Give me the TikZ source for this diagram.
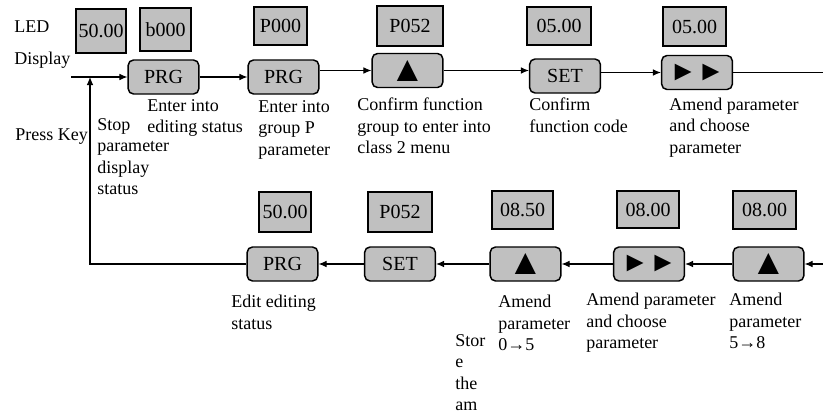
\documentclass[tikz,border=0pt]{standalone}
\usepackage{fontspec}
\setmainfont{Liberation Serif}
\usetikzlibrary{arrows.meta}
\definecolor{keygray}{HTML}{C0C0C0}
\newcommand\upkey{{\fontsize{27}{27}\selectfont ▲}}
\newcommand\shiftkey{{\fontsize{21}{21}\selectfont ►►}}
\tikzset{
  screen/.style={draw,line width=1.1pt,fill=keygray,inner sep=1pt,
    font=\fontsize{15}{18}\selectfont},
  button/.style={draw,line width=1.1pt,fill=keygray,rounded corners=4pt,
    minimum width=53pt,minimum height=25.5pt,inner sep=1pt,
    font=\fontsize{15}{18}\selectfont},
  note/.style={anchor=north west,inner sep=0pt,align=left,
    font=\fontsize{13.5}{16.2}\selectfont},
  flow/.style={line width=0.8pt,-{Latex[length=6pt,width=5pt]}}
}

\begin{document}
\begin{tikzpicture}[x=0.75pt,y=-0.75pt]
  \useasboundingbox (0,0) rectangle (823,414);
  % LED displays
  \foreach \name/\x/\y/\w/\h/\txt in {d1/101/31/50/44/50.00,
      d2/165.5/29.5/51/43/b000, d3/280.5/26/53/38/P000,
      d4/410/26/66/40/P052, d5/559/26/64/38/05.00,
      d6/694.5/26.5/63/39/05.00, d7/285/212/52/40/50.00,
      d8/400/212/64/40/P052, d9/522.5/210/61/38/08.50,
      d10/648/209.5/62/37/08.00, d11/764.5/210/63/38/08.00}
    \node[screen,minimum width=\w*0.75pt,minimum height=\h*0.75pt]
      (\name) at (\x,\y) {\txt};
  % keys
  \foreach \name/\x/\y/\txt in {k1/163.5/77/PRG, k2/283.5/77/PRG,
      k3/407.5/70.5/\upkey, k4/565/76/SET, k5/697/72.5/\shiftkey,
      k6/282.5/264/PRG, k7/400/264/SET, k8/525.5/264/\upkey,
      k9/649/264/\shiftkey, k10/768.5/264/\upkey}
    \node[button] (\name) at (\x,\y) {\txt};
  \coordinate (in) at (71,77);
  \coordinate (join) at (90,77);
  \coordinate (out) at (823,72.5);
  \coordinate (back) at (823,264);
  % upper row
  \draw[flow] (in) -- (k1);
  \draw[flow] (k1) -- (k2);
  \draw[flow] (k2.east |- k3) -- (k3);
  \draw[flow] (k3) -- (k3 -| k4.west);
  \draw[flow] (k4.east |- k5) -- (k5);
  \draw[line width=0.8pt] (k5) -- (out);
  % lower row
  \draw[flow] (back) -- (k10);
  \draw[flow] (k10) -- (k9);
  \draw[flow] (k9) -- (k8);
  \draw[flow] (k8) -- (k7);
  \draw[flow] (k7) -- (k6);
  \draw[flow] (k6) -| (join);
  % texts
  \node[note] (led) at (14,20) {LED};
  \node[note] (disp) at (14,52) {Display};
  \node[note] (press) at (15,128) {Press Key};
  \node[note] (t1) at (97,118) {Stop\\parameter\\display\\status};
  \node[note] (t2) at (147,99) {Enter into\\editing status};
  \node[note] (t3) at (258,100) {Enter into\\group P\\parameter};
  \node[note] (t4) at (357,97.5) {Confirm function\\group to enter into\\class 2 menu};
  \node[note] (t5) at (529,98) {Confirm\\function code};
  \node[note] (t6) at (669,97.5) {Amend parameter\\and choose\\parameter};
  \node[note] (t7) at (231,295) {Edit editing\\status};
  \node[note] (t8) at (455,334) {Stor\\e\\the\\am};
  \node[note] (t9) at (498,295) {Amend\\parameter\\0→5};
  \node[note] (t10) at (586,293) {Amend parameter\\and choose\\parameter};
  \node[note] (t11) at (729,293) {Amend\\parameter\\5→8};
\end{tikzpicture}
\end{document}
